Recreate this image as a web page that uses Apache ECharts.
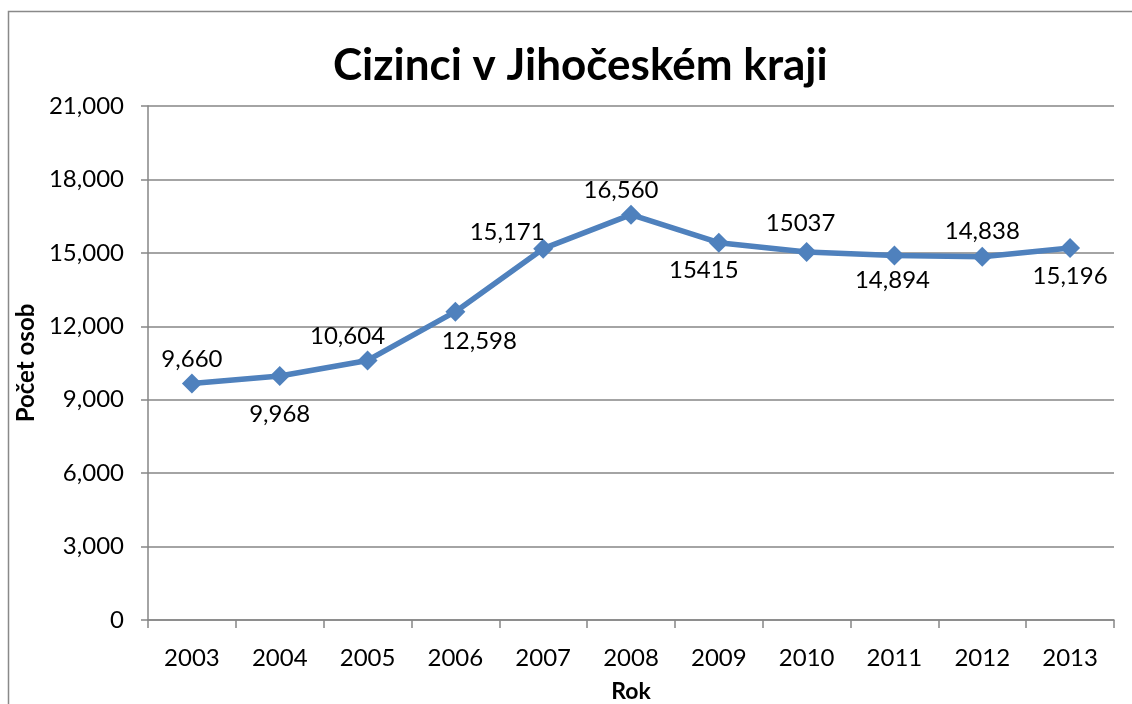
<!DOCTYPE html>
<html>
<head>
<meta charset="utf-8">
<script src="https://cdn.jsdelivr.net/npm/echarts@6/dist/echarts.min.js"></script>
<style>html,body{margin:0;padding:0;background:#fff}#c{width:1132px;height:704px}</style>
</head>
<body>
<div id="c"></div>
<script>
const titleText = 'Cizinci v Jihočeském kraji';
const years = ['2003','2004','2005','2006','2007','2008','2009','2010','2011','2012','2013'];
const values = [9660, 9968, 10604, 12598, 15171, 16560, 15415, 15037, 14894, 14838, 15196];
const labelTexts = ['9,660','9,968','10,604','12,598','15,171','16,560','15415','15037','14,894','14,838','15,196'];
const labelSides = ['top','bottom','top','bottom','top','top','bottom','top','bottom','top','bottom'];
const yTicks = [0, 3000, 6000, 9000, 12000, 15000, 18000, 21000];

// label nudges (pixels), styling only
const labelNudge = [[0,0],[0,10],[-20,0],[24,2],[-36,8],[-10,0],[-15,0],[-6,-5],[-2,-3],[0,-2],[0,0]];

const FONT = 'Lato, "Open Sans", sans-serif';
const chart = echarts.init(document.getElementById('c'), null, {renderer:'canvas'});

function labelFor(side, i){
  const base = side === 'top' ? {position:'top', distance:2} : {position:'bottom', distance:6};
  base.offset = labelNudge[i];
  return base;
}

const data = values.map((v,i)=>({value:v, label:Object.assign({show:true, formatter:labelTexts[i]}, labelFor(labelSides[i], i))}));

chart.setOption({
  animation:false,
  backgroundColor:'#fff',
  title:{text:titleText, left:328, top:39, textStyle:{fontFamily:FONT, fontWeight:'bold', fontSize:44, color:'#000'}},
  graphic:[{type:'rect', shape:{x:8.5, y:11.5, width:1200, height:800}, style:{fill:'none', stroke:'#898989', lineWidth:1.5}, silent:true}],
  grid:{left:148, right:18, top:106, bottom:84, containLabel:false, outerBoundsMode:'none'},
  xAxis:{
    type:'category', data:years, boundaryGap:true,
    name:'Rok', nameLocation:'middle', nameGap:60,
    nameTextStyle:{fontFamily:FONT, fontWeight:'bold', fontSize:23, color:'#000'},
    axisLine:{lineStyle:{color:'#868686', width:1.5}},
    axisTick:{show:true, length:8, alignWithLabel:false, lineStyle:{color:'#868686', width:1.5}},
    axisLabel:{fontFamily:FONT, fontSize:24, color:'#000', margin:26},
    splitLine:{show:false}
  },
  yAxis:{
    type:'value', min:0, max:21000, interval:3000,
    name:'Počet osob', nameLocation:'middle', nameGap:102, nameRotate:90,
    nameTextStyle:{fontFamily:FONT, fontWeight:'bold', fontSize:24, color:'#000'},
    axisLine:{show:true, lineStyle:{color:'#868686', width:1.5}},
    axisTick:{show:true, length:7, lineStyle:{color:'#868686', width:1.5}},
    axisLabel:{fontFamily:FONT, fontSize:24, color:'#000', margin:24, formatter:v=>v.toLocaleString('en-US')},
    splitLine:{show:true, lineStyle:{color:'#868686', width:1.5}}
  },
  series:[{
    type:'line', data:data,
    symbol:'diamond', symbolSize:20,
    lineStyle:{color:'#4F81BD', width:5.5},
    itemStyle:{color:'#4F81BD'},
    label:{fontFamily:FONT, fontSize:24, color:'#000'}
  }]
});
</script>
</body>
</html>
